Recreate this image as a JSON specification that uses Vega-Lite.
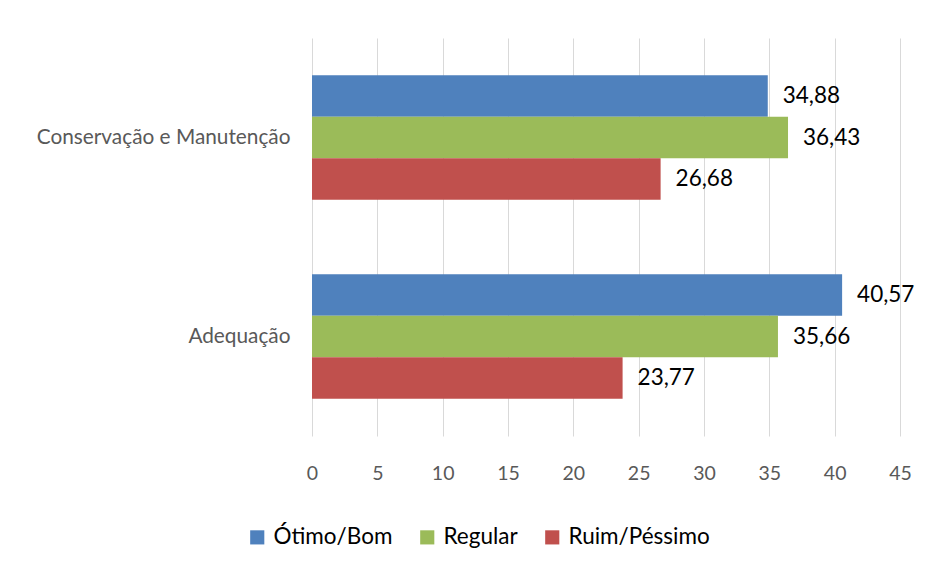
{
  "$schema": "https://vega.github.io/schema/vega-lite/v6.json",
  "width": 588,
  "height": 398,
  "autosize": {"type": "none"},
  "padding": {"left": 312, "top": 38, "right": 29, "bottom": 131},
  "background": "white",
  "config": {
    "font": "Lato",
    "view": {"stroke": null},
    "locale": {"number": {"decimal": ",", "thousands": ".", "grouping": [3], "currency": ["R$", ""]}}
  },
  "data": {
    "values": [
      {"categoria": "Conservação e Manutenção", "avaliacao": "Ótimo/Bom", "valor": 34.88},
      {"categoria": "Conservação e Manutenção", "avaliacao": "Regular", "valor": 36.43},
      {"categoria": "Conservação e Manutenção", "avaliacao": "Ruim/Péssimo", "valor": 26.68},
      {"categoria": "Adequação", "avaliacao": "Ótimo/Bom", "valor": 40.57},
      {"categoria": "Adequação", "avaliacao": "Regular", "valor": 35.66},
      {"categoria": "Adequação", "avaliacao": "Ruim/Péssimo", "valor": 23.77}
    ]
  },
  "encoding": {
    "y": {
      "field": "categoria", "type": "nominal",
      "sort": ["Conservação e Manutenção", "Adequação"],
      "scale": {"paddingInner": 0.374, "paddingOuter": 0.187},
      "axis": {"title": null, "domain": false, "ticks": false, "labelFontSize": 20.8, "labelColor": "#595959", "labelPadding": 22, "labelLimit": 0, "labelFont": "Lato"}
    },
    "yOffset": {
      "field": "avaliacao", "type": "nominal",
      "sort": ["Ótimo/Bom", "Regular", "Ruim/Péssimo"],
      "scale": {"paddingInner": 0, "paddingOuter": 0}
    },
    "x": {
      "field": "valor", "type": "quantitative",
      "scale": {"domain": [0, 45], "nice": false},
      "axis": {"title": null, "values": [0, 5, 10, 15, 20, 25, 30, 35, 40, 45], "domain": false, "ticks": false, "grid": true, "gridColor": "#d9d9d9", "gridWidth": 1, "labelFontSize": 19.5, "labelColor": "#595959", "labelPadding": 28, "labelFlush": false, "labelFont": "Lato"}
    }
  },
  "layer": [
    {
      "mark": {"type": "bar"},
      "encoding": {
        "color": {
          "field": "avaliacao", "type": "nominal",
          "sort": ["Ótimo/Bom", "Regular", "Ruim/Péssimo"],
          "scale": {"domain": ["Ótimo/Bom", "Regular", "Ruim/Péssimo"], "range": ["#4F81BD", "#9BBB59", "#C0504D"]},
          "legend": {
            "title": null, "orient": "none", "direction": "horizontal",
            "legendX": -66, "legendY": 488,
            "symbolType": "square", "symbolSize": 200, "symbolStrokeWidth": 0,
            "labelFontSize": 22.5, "labelColor": "#000000", "labelFont": "Lato",
            "columnPadding": 23, "labelOffset": 5, "symbolOffset": 0
          }
        }
      }
    },
    {
      "mark": {"type": "text", "align": "left", "baseline": "middle", "dx": 15, "fontSize": 22.5, "color": "#000000", "font": "Lato"},
      "encoding": {
        "text": {"field": "valor", "type": "quantitative", "format": ".2f"}
      }
    }
  ]
}
